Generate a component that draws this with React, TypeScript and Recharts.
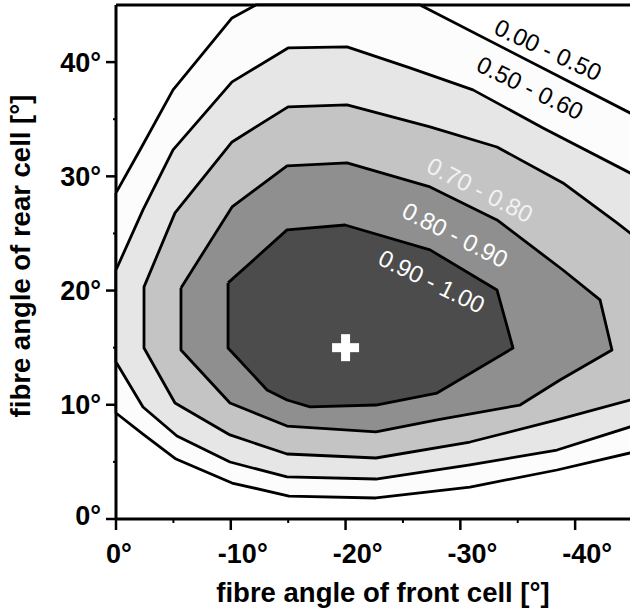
import React from 'react';
import { ComposedChart, Scatter, XAxis, YAxis, ReferenceLine } from 'recharts';

const FONT = '"Liberation Sans", Arial, Helvetica, sans-serif';

// axes (x = fibre angle of front cell, y = fibre angle of rear cell), degrees
const xDomain = [-46, 0];
const yDomain = [0, 45];
const xTicks = [0, -5, -10, -15, -20, -25, -30, -35, -40];
const yTicks = [0, 5, 10, 15, 20, 25, 30, 35, 40];

// contour regions (outline), each one is the area above a level
const region050 = [
  { x: 0, y: 28.55 }, { x: -2.09, y: 32.31 }, { x: -4.97, y: 37.57 }, { x: -10.11, y: 43.87 },
  { x: -12.2, y: 45 }, { x: -26.49, y: 45 }, { x: -44.78, y: 35.55 }, { x: -46, y: 34.92 },
  { x: -46, y: 6.07 }, { x: -44.78, y: 5.78 }, { x: -38.42, y: 4.29 }, { x: -30.84, y: 2.8 },
  { x: -22.65, y: 1.84 }, { x: -15.07, y: 2.01 }, { x: -10.11, y: 3.15 }, { x: -5.23, y: 5.25 },
  { x: -2.35, y: 7.44 }, { x: 0, y: 9.28 }, { x: 0, y: 28.55 },
];
const region060 = [
  { x: 0, y: 21.8 }, { x: -2.35, y: 27.06 }, { x: -4.97, y: 32.31 }, { x: -10.11, y: 38.27 },
  { x: -14.99, y: 41.24 }, { x: -20.13, y: 41.33 }, { x: -25.61, y: 39.49 }, { x: -31.1, y: 37.57 },
  { x: -37.2, y: 34.24 }, { x: -44.78, y: 30.3 }, { x: -46, y: 29.67 },
  { x: -46, y: 8.45 }, { x: -44.78, y: 8.06 }, { x: -38.42, y: 6.04 }, { x: -30.84, y: 4.73 },
  { x: -22.65, y: 3.5 }, { x: -14.9, y: 3.68 }, { x: -9.93, y: 4.99 }, { x: -5.31, y: 7.27 },
  { x: -2.35, y: 9.81 }, { x: 0, y: 13.75 }, { x: 0, y: 21.8 },
];
const region070 = [
  { x: -46, y: 24.12 }, { x: -44.78, y: 25.04 }, { x: -43.65, y: 25.92 }, { x: -38.94, y: 29.42 },
  { x: -33.19, y: 32.57 }, { x: -27.36, y: 34.33 }, { x: -20.13, y: 36.25 }, { x: -14.99, y: 36.08 },
  { x: -10.11, y: 33.01 }, { x: -5.14, y: 26.8 }, { x: -2.44, y: 20.32 }, { x: -2.44, y: 14.97 },
  { x: -5.14, y: 10.16 }, { x: -9.93, y: 7.36 }, { x: -14.9, y: 5.69 }, { x: -22.65, y: 5.34 },
  { x: -30.84, y: 6.74 }, { x: -38.42, y: 8.67 }, { x: -44.78, y: 10.42 }, { x: -46, y: 10.75 },
  { x: -46, y: 24.12 },
];
const region080 = [
  { x: -5.66, y: 20.23 }, { x: -10.11, y: 27.32 }, { x: -14.9, y: 30.91 }, { x: -20.13, y: 31.17 },
  { x: -27.36, y: 29.07 }, { x: -33.19, y: 26.18 }, { x: -38.94, y: 21.8 }, { x: -42.17, y: 19.18 },
  { x: -43.21, y: 14.8 }, { x: -38.68, y: 12.17 }, { x: -35.2, y: 9.98 }, { x: -27.97, y: 8.67 },
  { x: -22.65, y: 7.62 }, { x: -14.9, y: 8.14 }, { x: -9.93, y: 10.16 }, { x: -5.66, y: 14.8 },
  { x: -5.66, y: 20.23 },
];
const region090 = [
  { x: -9.76, y: 20.67 }, { x: -14.9, y: 25.31 }, { x: -19.95, y: 25.74 }, { x: -27.36, y: 23.56 },
  { x: -33.19, y: 20.05 }, { x: -34.59, y: 14.97 }, { x: -27.97, y: 11.03 }, { x: -22.65, y: 9.98 },
  { x: -16.9, y: 9.81 }, { x: -14.9, y: 10.42 }, { x: -13.16, y: 11.3 }, { x: -9.76, y: 14.97 },
  { x: -9.76, y: 20.67 },
];

const regions = [region050, region060, region070, region080, region090];
const regionFills = ['#fcfcfc', '#e6e6e6', '#c4c4c4', '#8f8f8f', '#4c4c4c'];

// level labels
const levelLabels = [
  { x: -37.64, y: 41.07, text: '0.00 - 0.50', angle: 25, color: '#000000' },
  { x: -36.07, y: 37.74, text: '0.50 - 0.60', angle: 26, color: '#000000' },
  { x: -31.71, y: 28.81, text: '0.70 - 0.80', angle: 27, color: '#f2f2f2' },
  { x: -29.54, y: 24.87, text: '0.80 - 0.90', angle: 27, color: '#ffffff' },
  { x: -27.5, y: 20.8, text: '0.90 - 1.00', angle: 26, color: '#ffffff' },
];

// optimum marker
const optimum = [{ x: -20, y: 15 }];

const NoDot = () => <g />;

const LabelShape = (props: any) => {
  const { cx, cy, payload } = props;
  return (
    <text
      x={cx}
      y={cy}
      dy="0.35em"
      textAnchor="middle"
      fontSize={24}
      fontFamily={FONT}
      fill={payload.color}
      transform={`rotate(${payload.angle} ${cx} ${cy})`}
    >
      {payload.text}
    </text>
  );
};

const PlusShape = (props: any) => {
  const { cx, cy } = props;
  return (
    <g fill="#ffffff">
      <rect x={cx - 13.5} y={cy - 4.5} width={27} height={9} />
      <rect x={cx - 4.5} y={cy - 13.5} width={9} height={27} />
    </g>
  );
};

const XTick = (props: any) => {
  const { x, y, payload } = props;
  const v = payload.value;
  const major = v % 10 === 0;
  return (
    <g>
      <line x1={x} x2={x} y1={y} y2={y + (major ? 11 : 4)} stroke="#000" strokeWidth={major ? 2.5 : 2} />
      {major && (
        <text
          x={x + (v === 0 ? 3 : 12)}
          y={y + 44}
          textAnchor="middle"
          fontSize={27}
          fontWeight="bold"
          fontFamily={FONT}
          fill="#000"
        >
          {`${v}°`}
        </text>
      )}
    </g>
  );
};

const YTick = (props: any) => {
  const { x, y, payload } = props;
  const v = payload.value;
  const major = v % 10 === 0;
  return (
    <g>
      <line x1={x} x2={x - (major ? 10 : 3)} y1={y} y2={y} stroke="#000" strokeWidth={major ? 2.5 : 2} />
      {major && (
        <text
          x={x - 15}
          y={y + 9.5 + (v === 0 ? -4 : 0)}
          textAnchor="end"
          fontSize={27}
          fontWeight="bold"
          fontFamily={FONT}
          fill="#000"
        >
          {`${v}°`}
        </text>
      )}
    </g>
  );
};

const XTitle = () => (
  <text x={383} y={602} textAnchor="middle" fontSize={27.5} fontWeight="bold" fontFamily={FONT} fill="#000">
    fibre angle of front cell [°]
  </text>
);

const YTitle = () => (
  <text
    x={30}
    y={256}
    textAnchor="middle"
    fontSize={27.5}
    fontWeight="bold"
    fontFamily={FONT}
    fill="#000"
    transform="rotate(-90 30 256)"
  >
    fibre angle of rear cell [°]
  </text>
);

export default function App() {
  return (
    <div
      style={{
        position: 'absolute',
        left: 0,
        top: 0,
        width: 630,
        height: 615,
        overflow: 'hidden',
        background: '#ffffff',
      }}
    >
      <ComposedChart width={644} height={615} margin={{ top: 5, right: 0, bottom: 0, left: 0 }}>
        {regions.map((r, i) => (
          <Scatter
            key={`region-${i}`}
            data={r}
            dataKey="y"
            shape={NoDot}
            line={{ stroke: '#000000', strokeWidth: 2.8, fill: regionFills[i], strokeLinejoin: 'round' }}
            lineJointType="linear"
            isAnimationActive={false}
            legendType="none"
          />
        ))}
        <Scatter data={optimum} dataKey="y" shape={PlusShape} isAnimationActive={false} legendType="none" />
        <Scatter data={levelLabels} dataKey="y" shape={LabelShape} isAnimationActive={false} legendType="none" />
        <ReferenceLine y={45} stroke="#000" strokeWidth={3} />
        <XAxis
          type="number"
          dataKey="x"
          domain={xDomain}
          reversed
          ticks={xTicks}
          interval={0}
          height={96}
          tickSize={0}
          tickMargin={0}
          tickLine={false}
          tick={<XTick />}
          axisLine={{ stroke: '#000', strokeWidth: 3 }}
          label={<XTitle />}
        />
        <YAxis
          type="number"
          dataKey="y"
          domain={yDomain}
          ticks={yTicks}
          interval={0}
          width={116}
          tickSize={0}
          tickMargin={0}
          tickLine={false}
          tick={<YTick />}
          axisLine={{ stroke: '#000', strokeWidth: 3 }}
          label={<YTitle />}
        />
      </ComposedChart>
    </div>
  );
}
